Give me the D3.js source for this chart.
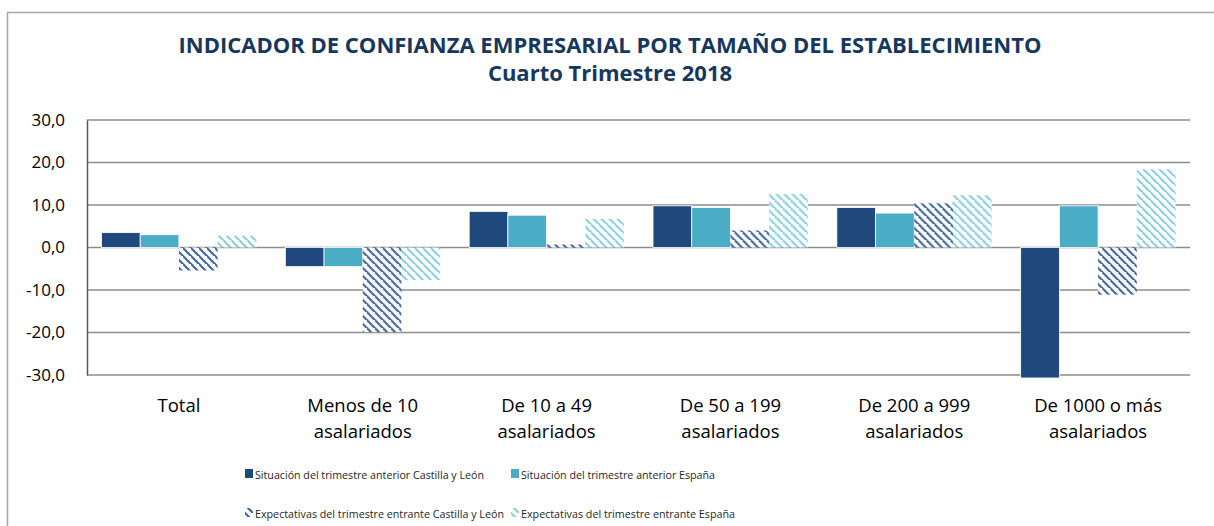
<!DOCTYPE html>
<html>
<head>
<meta charset="utf-8">
<script src="https://cdn.jsdelivr.net/npm/d3@7"></script>
<style>
  body { margin: 0; background: #fff; }
  svg { display: block; font-family: "Open Sans", sans-serif; }
</style>
</head>
<body>
<div id="chart"></div>
<script>
// data
var categories = ["Total", "Menos de 10", "De 10 a 49", "De 50 a 199", "De 200 a 999", "De 1000 o más"];
var catLabels = [["Total"], ["Menos de 10", "asalariados"], ["De 10 a 49", "asalariados"],
                 ["De 50 a 199", "asalariados"], ["De 200 a 999", "asalariados"], ["De 1000 o más", "asalariados"]];
var seriesNames = ["Situación del trimestre anterior Castilla y León", "Situación del trimestre anterior España",
                   "Expectativas del trimestre entrante Castilla y León", "Expectativas del trimestre entrante España"];
var sitCyL = [3.5, -4.5, 8.5, 9.8, 9.4, -30.7];
var sitEsp = [3.0, -4.5, 7.6, 9.4, 8.1, 9.8];
var expCyL = [-5.4, -19.9, 0.7, 4.0, 10.4, -11.1];
var expEsp = [2.8, -7.7, 6.7, 12.6, 12.3, 18.4];
var yTicks = [-30, -20, -10, 0, 10, 20, 30];

var w = 1214, h = 526;
var pLeft = 87, pRight = 1190, pTop = 120, pBottom = 375;

var svg = d3.select("#chart").append("svg").attr("width", w).attr("height", h);

// patterns for the expectation series
var defs = svg.append("defs");
function stripes(id, col) {
    var p = defs.append("pattern").attr("id", id)
        .attr("patternUnits", "userSpaceOnUse").attr("width", 8).attr("height", 8);
    p.append("rect").attr("width", 8).attr("height", 8).attr("fill", "#fff");
    p.append("path").attr("d", "M-2,-2 L10,10 M-6,2 L2,10 M6,-6 L14,2")
        .attr("stroke", col).attr("stroke-width", 2.2);
}
stripes("pDark", "#45679a");
stripes("pLight", "#8ccfe0");

var fills = ["#1f497d", "#4bacc6", "url(#pDark)", "url(#pLight)"];

// chart frame
svg.append("rect").attr("x", 7.5).attr("y", 12.5).attr("width", 1210).attr("height", 600)
    .attr("fill", "none").attr("stroke", "#a6a6a6").attr("stroke-width", 1.5);

// title
svg.append("text").attr("x", 610).attr("y", 53).attr("text-anchor", "middle")
    .attr("font-size", 22).attr("font-weight", "bold").attr("fill", "#17375e")
    .text("INDICADOR DE CONFIANZA EMPRESARIAL POR TAMAÑO DEL ESTABLECIMIENTO");
svg.append("text").attr("x", 610).attr("y", 81).attr("text-anchor", "middle")
    .attr("font-size", 22).attr("font-weight", "bold").attr("fill", "#17375e")
    .text("Cuarto Trimestre 2018");

var x = d3.scaleBand().domain(categories).range([pLeft, pRight]);
var xs = d3.scaleBand().domain(d3.range(4)).range([0, x.bandwidth()]).paddingOuter(0.375);
var y = d3.scaleLinear().domain([-30, 30]).range([pBottom, pTop]);

var loc = d3.formatLocale({decimal: ",", thousands: ".", grouping: [3], currency: ["", "€"], minus: "-"});
var fmt = loc.format(".1f");

// gridlines
svg.append("g").selectAll("line").data(yTicks).enter().append("line")
    .attr("x1", pLeft).attr("x2", pRight)
    .attr("y1", d => y(d)).attr("y2", d => y(d))
    .attr("stroke", "#8c8c8c").attr("stroke-width", 1.5);

// y axis
var yAxis = svg.append("g").attr("transform", "translate(" + pLeft + ",0)")
    .call(d3.axisLeft(y).tickValues(yTicks).tickFormat(fmt).tickSize(0).tickPadding(22));
yAxis.select(".domain").attr("stroke", "#595959").attr("stroke-width", 1.5);
yAxis.selectAll("text").attr("font-size", 17).attr("fill", "#000").attr("font-family", "Open Sans, sans-serif");

// bars
var rows = categories.map(function(c, i) {
    return [sitCyL[i], sitEsp[i], expCyL[i], expEsp[i]];
});
var groups = svg.append("g").selectAll("g").data(rows).enter().append("g")
    .attr("transform", (d, i) => "translate(" + x(categories[i]) + ",0)");
groups.selectAll("rect").data(d => d).enter().append("rect")
    .attr("x", (d, j) => xs(j))
    .attr("width", xs.bandwidth())
    .attr("y", d => y(Math.max(0, d)))
    .attr("height", d => Math.abs(y(d) - y(0)))
    .attr("fill", (d, j) => fills[j])
    .attr("stroke", (d, j) => j < 2 ? "#fff" : "none")
    .attr("stroke-width", 0.8);

// category labels
var cl = svg.append("g").selectAll("text").data(catLabels).enter().append("text")
    .attr("x", (d, i) => x(categories[i]) + x.bandwidth() / 2)
    .attr("y", 412).attr("text-anchor", "middle")
    .attr("font-size", 18.5).attr("fill", "#000");
cl.selectAll("tspan").data(d => d).enter().append("tspan")
    .attr("x", function() { return this.parentNode.getAttribute("x"); })
    .attr("dy", (d, k) => k == 0 ? 0 : 26)
    .text(d => d);

// legend (text squeezed a little, the original uses a narrow font)
var legPos = [[245, 474], [511, 474], [245, 513], [511, 513]];
var legWidth = [229, 194, 249, 214];
var leg = svg.append("g").selectAll("g").data(seriesNames).enter().append("g")
    .attr("transform", (d, i) => "translate(" + legPos[i][0] + "," + legPos[i][1] + ")");
leg.append("rect").attr("x", 0).attr("y", -5).attr("width", 8).attr("height", 9)
    .attr("fill", (d, i) => fills[i]);
leg.append("text").attr("x", 10).attr("y", 4.5).attr("font-size", 11.3).attr("fill", "#262626")
    .attr("textLength", (d, i) => legWidth[i]).attr("lengthAdjust", "spacingAndGlyphs")
    .text(d => d);
</script>
</body>
</html>
